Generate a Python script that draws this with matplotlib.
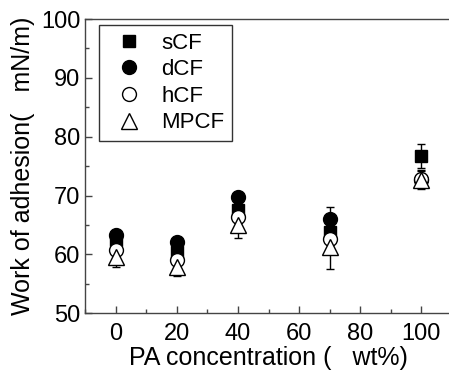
import matplotlib.pyplot as plt
from matplotlib.ticker import MultipleLocator

plt.rcParams['font.family'] = ['Liberation Sans', 'DejaVu Sans']

# PA concentration (wt%)
pa = [0, 20, 40, 70, 100]

# work of adhesion (mN/m) and error
scf = [62.5, 60.4, 67.5, 63.8, 76.7]
scf_err = [1.0, 1.0, 1.2, 1.5, 2.0]
dcf = [63.3, 62.1, 69.7, 66.0, 72.7]
dcf_err = [0.8, 0.8, 0.8, 2.1, 1.0]
hcf = [60.7, 59.1, 66.3, 62.7, 72.9]
hcf_err = [1.0, 1.0, 1.0, 1.5, 1.5]
mpcf = [59.5, 57.9, 65.0, 61.3, 72.6]
mpcf_err = [1.6, 1.6, 2.2, 3.7, 1.5]

fig = plt.figure(figsize=(4.49, 3.73), dpi=100)
ax = fig.add_axes([0.1893, 0.160, 0.8174, 0.789])

series = [
    (scf, scf_err, 's', 'black', 'sCF', 9),
    (dcf, dcf_err, 'o', 'black', 'dCF', 10),
    (hcf, hcf_err, 'o', 'white', 'hCF', 10),
    (mpcf, mpcf_err, '^', 'white', 'MPCF', 11),
]
handles = []
for vals, err, m, fc, name, ms in series:
    eb = ax.errorbar(pa, vals, yerr=err, fmt=m, mfc=fc, mec='black', ecolor='black',
                     ms=ms, mew=1, elinewidth=1, capsize=3, capthick=1, label=name)
    handles.append(eb[0])

ax.set_xlim(-10, 110)
ax.set_ylim(50, 100)
ax.xaxis.set_major_locator(MultipleLocator(20))
ax.xaxis.set_minor_locator(MultipleLocator(10))
ax.yaxis.set_major_locator(MultipleLocator(10))
ax.yaxis.set_minor_locator(MultipleLocator(5))
ax.tick_params(which='both', direction='in', labelsize=17, color='#444444')
ax.tick_params(which='major', length=5, width=1)
ax.tick_params(which='minor', length=3, width=1)
ax.tick_params(axis='x', pad=7)
for s in ax.spines.values():
    s.set_color('#444444')
    s.set_linewidth(1)

ax.set_xlabel('PA concentration (   wt%)', fontsize=18, labelpad=1)
ax.set_ylabel('Work of adhesion(   mN/m)', fontsize=18, labelpad=4)

leg = ax.legend(handles=handles, labels=['sCF', 'dCF', 'hCF', 'MPCF'],
                loc='upper left', bbox_to_anchor=(0.038, 0.98), fontsize=16,
                frameon=True, fancybox=False, edgecolor='black', handletextpad=0.45,
                labelspacing=0.25, borderpad=0.35, handlelength=2.0, borderaxespad=0)
leg.get_frame().set_linewidth(1)

fig.savefig('out.png', dpi=100)
